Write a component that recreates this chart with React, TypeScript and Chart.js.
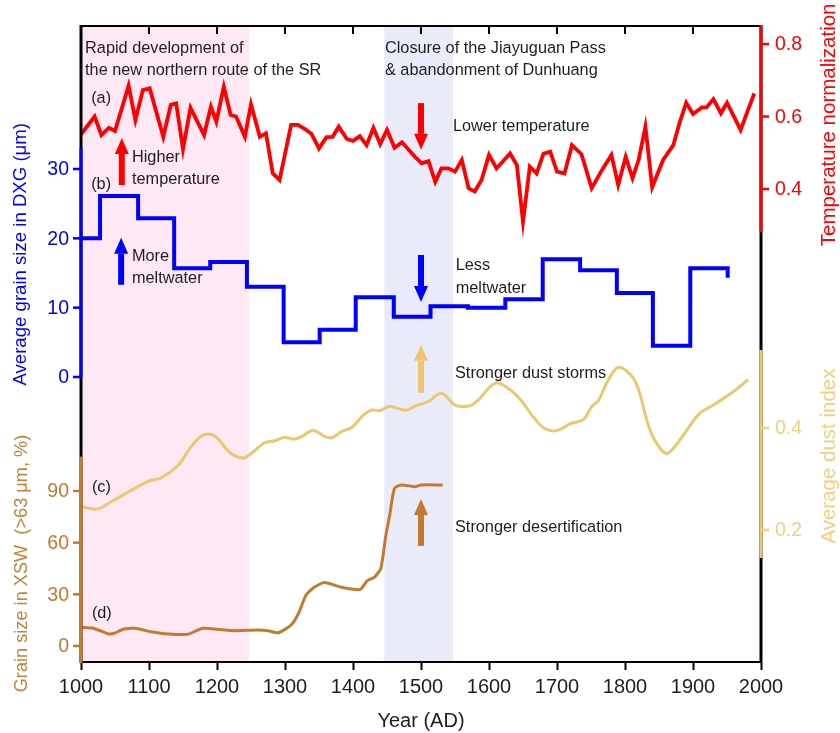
import React, { useEffect, useRef } from "react";
import { Chart, registerables } from "chart.js";
Chart.register(...registerables);

const FONT = '"Liberation Sans", Arial, Helvetica, sans-serif';

const tempYears = [1000, 1020, 1030, 1041, 1050, 1070, 1080, 1091, 1101, 1121, 1132, 1140, 1150, 1161, 1181, 1191, 1199, 1210, 1220, 1228, 1241, 1250, 1263, 1272, 1282, 1292, 1309, 1319, 1329, 1339, 1350, 1361, 1370, 1379, 1391, 1400, 1410, 1420, 1430, 1440, 1450, 1461, 1472, 1491, 1501, 1511, 1521, 1530, 1540, 1550, 1560, 1570, 1579, 1589, 1600, 1611, 1620, 1631, 1641, 1650, 1660, 1670, 1680, 1690, 1700, 1711, 1722, 1736, 1751, 1766, 1780, 1790, 1801, 1811, 1820, 1830, 1840, 1856, 1871, 1880, 1890, 1900, 1913, 1920, 1930, 1941, 1950, 1970, 1990];
const tempValues = [0.551, 0.600, 0.549, 0.569, 0.560, 0.685, 0.590, 0.673, 0.678, 0.544, 0.632, 0.636, 0.510, 0.624, 0.549, 0.627, 0.586, 0.682, 0.604, 0.600, 0.544, 0.634, 0.544, 0.554, 0.443, 0.425, 0.577, 0.577, 0.566, 0.552, 0.512, 0.543, 0.544, 0.572, 0.538, 0.533, 0.546, 0.521, 0.569, 0.524, 0.563, 0.514, 0.529, 0.489, 0.471, 0.477, 0.420, 0.457, 0.457, 0.448, 0.480, 0.402, 0.393, 0.425, 0.494, 0.457, 0.475, 0.498, 0.466, 0.310, 0.462, 0.443, 0.497, 0.503, 0.448, 0.443, 0.521, 0.496, 0.402, 0.452, 0.494, 0.411, 0.489, 0.430, 0.480, 0.572, 0.405, 0.480, 0.521, 0.581, 0.638, 0.607, 0.625, 0.625, 0.648, 0.609, 0.638, 0.563, 0.664];

const meltYears = [1000, 1028, 1084, 1137, 1190, 1244, 1298, 1351, 1404, 1460, 1514, 1569, 1624, 1679, 1734, 1788, 1841, 1896, 1951];
const meltValues = [20.0, 26.1, 22.9, 15.7, 16.6, 13.0, 5.0, 6.8, 11.5, 8.7, 10.2, 10.0, 11.2, 17.0, 15.4, 12.1, 4.5, 15.7, 14.3];

const dustYears = [1000, 1023, 1045, 1074, 1101, 1116, 1143, 1160, 1175, 1187, 1199, 1219, 1238, 1250, 1270, 1285, 1300, 1312, 1324, 1341, 1361, 1371, 1383, 1398, 1415, 1427, 1439, 1454, 1478, 1491, 1511, 1530, 1550, 1570, 1582, 1609, 1628, 1646, 1665, 1682, 1700, 1719, 1739, 1751, 1761, 1773, 1790, 1810, 1820, 1832, 1842, 1860, 1871, 1891, 1910, 1930, 1959, 1981];
const dustValues = [0.246, 0.241, 0.256, 0.278, 0.297, 0.301, 0.327, 0.360, 0.382, 0.388, 0.382, 0.352, 0.341, 0.350, 0.371, 0.375, 0.382, 0.378, 0.383, 0.395, 0.382, 0.382, 0.393, 0.401, 0.425, 0.435, 0.434, 0.442, 0.435, 0.443, 0.452, 0.468, 0.445, 0.443, 0.452, 0.488, 0.478, 0.456, 0.422, 0.399, 0.395, 0.408, 0.417, 0.442, 0.454, 0.488, 0.519, 0.502, 0.475, 0.416, 0.380, 0.350, 0.360, 0.396, 0.429, 0.445, 0.471, 0.495];

const desertYears = [1000, 1018, 1041, 1049, 1062, 1079, 1103, 1128, 1157, 1179, 1201, 1226, 1260, 1275, 1290, 1309, 1320, 1331, 1344, 1358, 1383, 1400, 1411, 1421, 1432, 1441, 1448, 1454, 1461, 1471, 1491, 1500, 1532];
const desertValues = [10.8, 10.3, 7.0, 7.4, 9.7, 10.3, 8.3, 7.0, 6.8, 10.3, 9.7, 8.9, 9.3, 8.9, 7.7, 12.2, 19.0, 29.6, 34.4, 36.8, 34.1, 32.9, 32.9, 37.9, 40.2, 45.1, 63.5, 76.1, 91.6, 93.5, 92.5, 93.5, 93.5];

const xTicks = [1000, 1100, 1200, 1300, 1400, 1500, 1600, 1700, 1800, 1900, 2000];
const meltTicks = [0, 10, 20, 30];
const desertTicks = [0, 30, 60, 90];
const tempTicks = [0.4, 0.6, 0.8];
const dustTicks = [0.2, 0.4];

const pinkBand = [1000, 1247];
const blueBand = [1446, 1547];

const C_RED = "#ff0000";
const C_BLUE = "#0000ff";
const C_DUST = "#edc670";
const C_DESERT = "#c47a2e";
const C_DESERT_TXT = "#c5803a";
const C_DUST_TXT = "#f0cf82";
const C_TEXT = "#1e1e1e";

function pts(xs: number[], ys: number[]) {
  return xs.map((x, i) => ({ x, y: ys[i] }));
}

function arrow(ctx: CanvasRenderingContext2D, x: number, y0: number, y1: number, color: string) {
  const dir = y1 > y0 ? 1 : -1;
  const headLen = 16, headHalf = 7, shaftHalf = 3;
  const yb = y1 - dir * headLen;
  ctx.fillStyle = color;
  ctx.fillRect(x - shaftHalf, Math.min(y0, yb), shaftHalf * 2, Math.abs(yb - y0));
  ctx.beginPath();
  ctx.moveTo(x - headHalf, yb);
  ctx.lineTo(x + headHalf, yb);
  ctx.lineTo(x, y1);
  ctx.closePath();
  ctx.fill();
}

const overlay = {
  id: "overlay",
  beforeDraw(chart: any) {
    const { ctx, chartArea: a, scales } = chart;
    const x = scales.x;
    ctx.save();
    ctx.fillStyle = "#fde8f3";
    const p0 = x.getPixelForValue(pinkBand[0]);
    const p1 = x.getPixelForValue(pinkBand[1]);
    ctx.fillRect(p0, a.top, p1 - p0, a.bottom - a.top);
    ctx.fillStyle = "#e9ebfb";
    const b0 = x.getPixelForValue(blueBand[0]);
    const b1 = x.getPixelForValue(blueBand[1]);
    ctx.fillRect(b0, a.top, b1 - b0, a.bottom - a.top);
    ctx.restore();
  },
  afterDraw(chart: any) {
    const { ctx, chartArea: a, scales } = chart;
    const x = scales.x, yT = scales.yT, yB = scales.yB, yD = scales.yD, yS = scales.yS;
    const L = Math.round(a.left), R = Math.round(a.right);
    ctx.save();
    ctx.fillStyle = "#000000";
    ctx.fillRect(L - 1, a.top - 1, R - L + 2, 2);
    xTicks.slice(1, -1).forEach((v) => {
      const px = x.getPixelForValue(v);
      ctx.fillRect(px - 1, a.top, 2, 8);
    });

    const seg = (px: number, top: number, bot: number, color: string) => {
      ctx.fillStyle = color;
      ctx.fillRect(px - 1.5, top, 3, bot - top);
    };
    const bTop = yB.getPixelForValue(33);
    const bBot = yB.getPixelForValue(0);
    const sTop = yS.getPixelForValue(110);
    seg(L, a.top - 1, a.bottom + 1, "#000000");
    seg(L, bTop, bBot, C_BLUE);
    seg(L, sTop, a.bottom + 1, C_DESERT);
    const tBot = yT.getPixelForValue(0.281);
    const dTop = yD.getPixelForValue(0.553);
    const dBot = yD.getPixelForValue(0.145);
    seg(R, a.top - 1, a.bottom + 1, "#000000");
    seg(R, a.top - 1, tBot, C_RED);
    seg(R, dTop, dBot, C_DUST);

    const tickFont = `19.5px ${FONT}`;
    const leftTicks = (scale: any, vals: number[], color: string, fmt: (v: number) => string) => {
      vals.forEach((v) => {
        const py = scale.getPixelForValue(v);
        ctx.fillStyle = color;
        ctx.fillRect(L - 8, py - 1.25, 8, 2.5);
        ctx.font = tickFont;
        ctx.textAlign = "right";
        ctx.textBaseline = "middle";
        ctx.fillText(fmt(v), L - 12, py + 1);
      });
    };
    const rightTicks = (scale: any, vals: number[], color: string, fmt: (v: number) => string) => {
      vals.forEach((v) => {
        const py = scale.getPixelForValue(v);
        ctx.fillStyle = color;
        ctx.fillRect(R, py - 1.25, 8, 2.5);
        ctx.font = tickFont;
        ctx.textAlign = "left";
        ctx.textBaseline = "middle";
        ctx.fillText(fmt(v), R + 14, py + 1);
      });
    };
    leftTicks(yB, meltTicks, C_BLUE, (v) => String(v));
    leftTicks(yS, desertTicks, C_DESERT, (v) => String(v));
    rightTicks(yT, tempTicks, C_RED, (v) => v.toFixed(1));
    rightTicks(yD, dustTicks, C_DUST_TXT, (v) => v.toFixed(1));

    const vtitle = (text: string, cx: number, cy: number, color: string, size: number) => {
      ctx.save();
      ctx.translate(cx, cy);
      ctx.rotate(-Math.PI / 2);
      ctx.fillStyle = color;
      ctx.font = `${size}px ${FONT}`;
      ctx.textAlign = "center";
      ctx.textBaseline = "middle";
      ctx.fillText(text, 0, 0);
      ctx.restore();
    };
    vtitle("Average grain size in DXG (μm)", 21, yB.getPixelForValue(17.7), C_BLUE, 18.6);
    vtitle("Grain size in XSW  (>63 μm, %)", 22, yS.getPixelForValue(47.9), C_DESERT_TXT, 18.2);
    vtitle("Temperature normalization", 829, yT.getPixelForValue(0.577), C_RED, 20.5);
    vtitle("Average dust index", 829, yD.getPixelForValue(0.345), C_DUST_TXT, 20.5);

    ctx.fillStyle = C_TEXT;
    ctx.textAlign = "left";
    ctx.textBaseline = "alphabetic";
    ctx.font = `16.3px ${FONT}`;
    const t = (s: string, year: number, py: number) => ctx.fillText(s, x.getPixelForValue(year), py);
    t("Rapid development of", 1006, 53);
    t("the new northern route of the SR", 1006, 75);
    t("Closure of the Jiayuguan Pass", 1447, 53);
    t("& abandonment of Dunhuang", 1447, 75);
    t("(a)", 1015, 103);
    t("(b)", 1015, 189);
    t("(c)", 1016, 492);
    t("(d)", 1016, 618);
    t("Higher", 1075, 162);
    t("temperature", 1075, 184);
    t("More", 1075, 261);
    t("meltwater", 1075, 283);
    t("Lower temperature", 1547, 131);
    t("Less", 1551, 270);
    t("meltwater", 1551, 293);
    t("Stronger dust storms", 1550, 378);
    t("Stronger desertification", 1550, 532);

    arrow(ctx, x.getPixelForValue(1060), yT.getPixelForValue(0.411), yT.getPixelForValue(0.541), C_RED);
    arrow(ctx, x.getPixelForValue(1500), yT.getPixelForValue(0.637), yT.getPixelForValue(0.508), C_RED);
    arrow(ctx, x.getPixelForValue(1059), yB.getPixelForValue(13.3), yB.getPixelForValue(20.1), C_BLUE);
    arrow(ctx, x.getPixelForValue(1500), yB.getPixelForValue(17.6), yB.getPixelForValue(10.8), C_BLUE);
    arrow(ctx, x.getPixelForValue(1500), yD.getPixelForValue(0.469), yD.getPixelForValue(0.563), C_DUST);
    arrow(ctx, x.getPixelForValue(1500), yS.getPixelForValue(58.1), yS.getPixelForValue(85.4), C_DESERT);
    ctx.restore();
  },
};

export default function App() {
  const ref = useRef<HTMLCanvasElement | null>(null);
  useEffect(() => {
    if (!ref.current) return;
    Chart.defaults.font.family = FONT;
    const chart = new Chart(ref.current, {
      type: "line",
      data: {
        datasets: [
          { label: "Temperature", data: pts(tempYears, tempValues), yAxisID: "yT", borderColor: C_RED, borderWidth: 3.8, pointRadius: 0, tension: 0, fill: false },
          { label: "DXG", data: pts(meltYears, meltValues), yAxisID: "yB", borderColor: C_BLUE, borderWidth: 4, pointRadius: 0, stepped: "before", fill: false },
          { label: "Dust", data: pts(dustYears, dustValues), yAxisID: "yD", borderColor: C_DUST, borderWidth: 3, pointRadius: 0, tension: 0.35, fill: false },
          { label: "XSW", data: pts(desertYears, desertValues), yAxisID: "yS", borderColor: C_DESERT, borderWidth: 3, pointRadius: 0, tension: 0.2, fill: false },
        ],
      },
      options: {
        animation: false,
        responsive: false,
        layout: { padding: { left: 81, right: 79, top: 26, bottom: 0 } },
        plugins: { legend: { display: false }, tooltip: { enabled: false } },
        scales: {
          x: {
            type: "linear",
            position: "bottom",
            min: 1000,
            max: 2000,
            afterBuildTicks: (s: any) => { s.ticks = xTicks.map((v) => ({ value: v })); },
            afterFit: (s: any) => { s.height = 71; },
            ticks: { font: { size: 20, family: FONT }, color: C_TEXT, padding: 5, maxRotation: 0, callback: (v: any) => String(v) },
            grid: { drawOnChartArea: false, drawTicks: true, tickLength: 8, tickColor: "#000", tickWidth: 2 },
            border: { color: "#000", width: 2 },
            title: { display: true, text: "Year (AD)", font: { size: 20, family: FONT }, color: C_TEXT, padding: { top: 0, bottom: 0 } },
          },
          yT: { type: "linear", position: "right", display: false, min: -0.9048, max: 0.8497 },
          yB: { type: "linear", position: "left", display: false, min: -41.106, max: 50.625 },
          yD: { type: "linear", position: "right", display: false, min: -0.0588, max: 1.1882 },
          yS: { type: "linear", position: "left", display: false, min: -9.29, max: 360.0 },
        },
      },
      plugins: [overlay],
    } as any);
    return () => chart.destroy();
  }, []);
  return (
    <div style={{ position: "absolute", left: 0, top: 0, width: 840, height: 733, background: "#fff" }}>
      <canvas ref={ref} width={840} height={733} style={{ width: 840, height: 733, display: "block" }} />
    </div>
  );
}
